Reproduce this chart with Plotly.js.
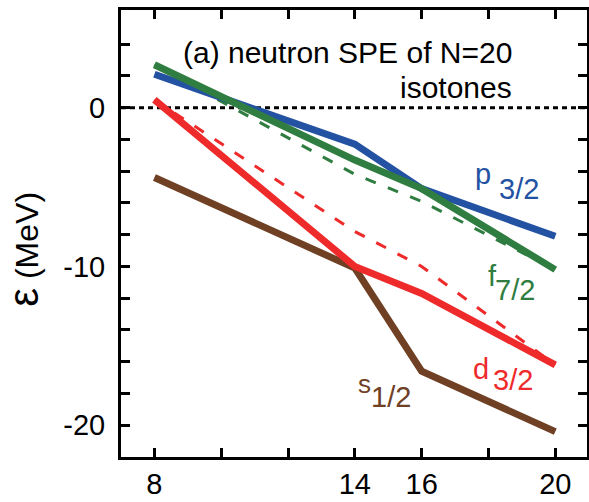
<!DOCTYPE html>
<html>
<head>
<meta charset="utf-8">
<script src="https://cdn.plot.ly/plotly-3.0.1.min.js"></script>
<style>html,body{margin:0;padding:0;background:#fff;}#chart{width:589px;height:502px;}</style>
</head>
<body>
<div id="chart"></div>
<script>
// Neutron number N (x) of the N=20 isotones
const N = [8, 14, 16, 20];
// Single-particle energies (MeV), solid lines
const p32 = [2.1, -2.3, -5.1, -8.1];
const f72 = [2.7, -3.3, -5.1, -10.2];
const d32 = [0.5, -10.0, -11.7, -16.2];
const s12 = [-4.4, -10.1, -16.6, -20.4];
// Dashed lines
const f72Dashed = [2.7, -4.2, -5.9, -10.2];
const d32Dashed = [0.5, -7.8, -10.0, -16.2];

const xTickVals = [8, 10, 12, 14, 16, 18, 20];
const xTickText = ['8', '', '', '14', '16', '', '20'];
const yTickVals = [-20, -18, -16, -14, -12, -10, -8, -6, -4, -2, 0, 2, 4];
const yTickText = ['-20', '', '', '', '', '-10', '', '', '', '', '0', '', ''];
const zeroLevel = 0;

const BLUE = '#2452a3', GREEN = '#2f7d40', RED = '#ee2a2a', BROWN = '#6f4024';
const FONT = 'Liberation Sans, Arial, Helvetica, sans-serif';

const traces = [
  {x: N, y: f72Dashed, mode: 'lines', line: {color: GREEN, width: 3, dash: '11px,13px'}},
  {x: N, y: d32Dashed, mode: 'lines', line: {color: RED, width: 3, dash: '11px,13px'}},
  {x: N, y: s12, mode: 'lines', line: {color: BROWN, width: 7}},
  {x: N, y: d32, mode: 'lines', line: {color: RED, width: 7}},
  {x: N, y: p32, mode: 'lines', line: {color: BLUE, width: 7}},
  {x: N, y: f72, mode: 'lines', line: {color: GREEN, width: 7}}
];

function lab(text, x, y, color, size, anchor) {
  return {text: text, x: x, y: y, xref: 'x', yref: 'y', showarrow: false,
    xanchor: anchor || 'left', yanchor: 'middle',
    font: {family: FONT, size: size, color: color}};
}

const layout = {
  width: 589, height: 502,
  margin: {l: 121, r: 2, t: 10, b: 45},
  paper_bgcolor: '#fff', plot_bgcolor: '#fff',
  showlegend: false,
  font: {family: FONT, color: '#000'},
  xaxis: {
    range: [7, 20.95], tickmode: 'array', tickvals: xTickVals, ticktext: xTickText,
    ticks: 'inside', ticklen: 9, tickwidth: 3, tickcolor: '#000',
    showline: true, linewidth: 3, linecolor: '#000', mirror: 'ticks',
    showgrid: false, zeroline: false, ticklabelstandoff: -1,
    tickfont: {family: FONT, size: 29, color: '#000'}
  },
  yaxis: {
    range: [-22, 6.15], tickmode: 'array', tickvals: yTickVals, ticktext: yTickText,
    ticks: 'inside', ticklen: 9, tickwidth: 3, tickcolor: '#000',
    showline: true, linewidth: 3, linecolor: '#000', mirror: 'ticks',
    showgrid: false, zeroline: false, ticklabelstandoff: 7,
    tickfont: {family: FONT, size: 29, color: '#000'}
  },
  shapes: [{type: 'line', xref: 'paper', x0: 0, x1: 1, yref: 'y', y0: zeroLevel, y1: zeroLevel,
    line: {color: '#000', width: 3, dash: '5px,4px'}, layer: 'below'}],
  annotations: [
    {text: '<span style="font-size:42px">ε</span> (MeV)', xref: 'paper', yref: 'paper', x: -0.208, y: 0.464, textangle: -90,
     showarrow: false, xanchor: 'center', yanchor: 'middle',
     font: {family: FONT, size: 32, color: '#000'}},
    lab('(a) neutron SPE of N=20', 8.8, 3.49, '#000', 30),
    lab('isotones', 18.75, 1.3, '#000', 30, 'right'),
    lab('p', 17.55, -4.15, BLUE, 29),
    lab('3/2', 18.25, -5.15, BLUE, 29),
    lab('f', 17.93, -10.6, GREEN, 29),
    lab('7/2', 18.15, -11.5, GREEN, 29),
    lab('d', 17.48, -16.45, RED, 29),
    lab('3/2', 18.08, -17.15, RED, 29),
    lab('s', 14.02, -17.4, BROWN, 26),
    lab('1/2', 14.42, -18.2, BROWN, 29)
  ]
};

Plotly.newPlot('chart', traces, layout, {staticPlot: true, displayModeBar: false});
</script>
</body>
</html>
